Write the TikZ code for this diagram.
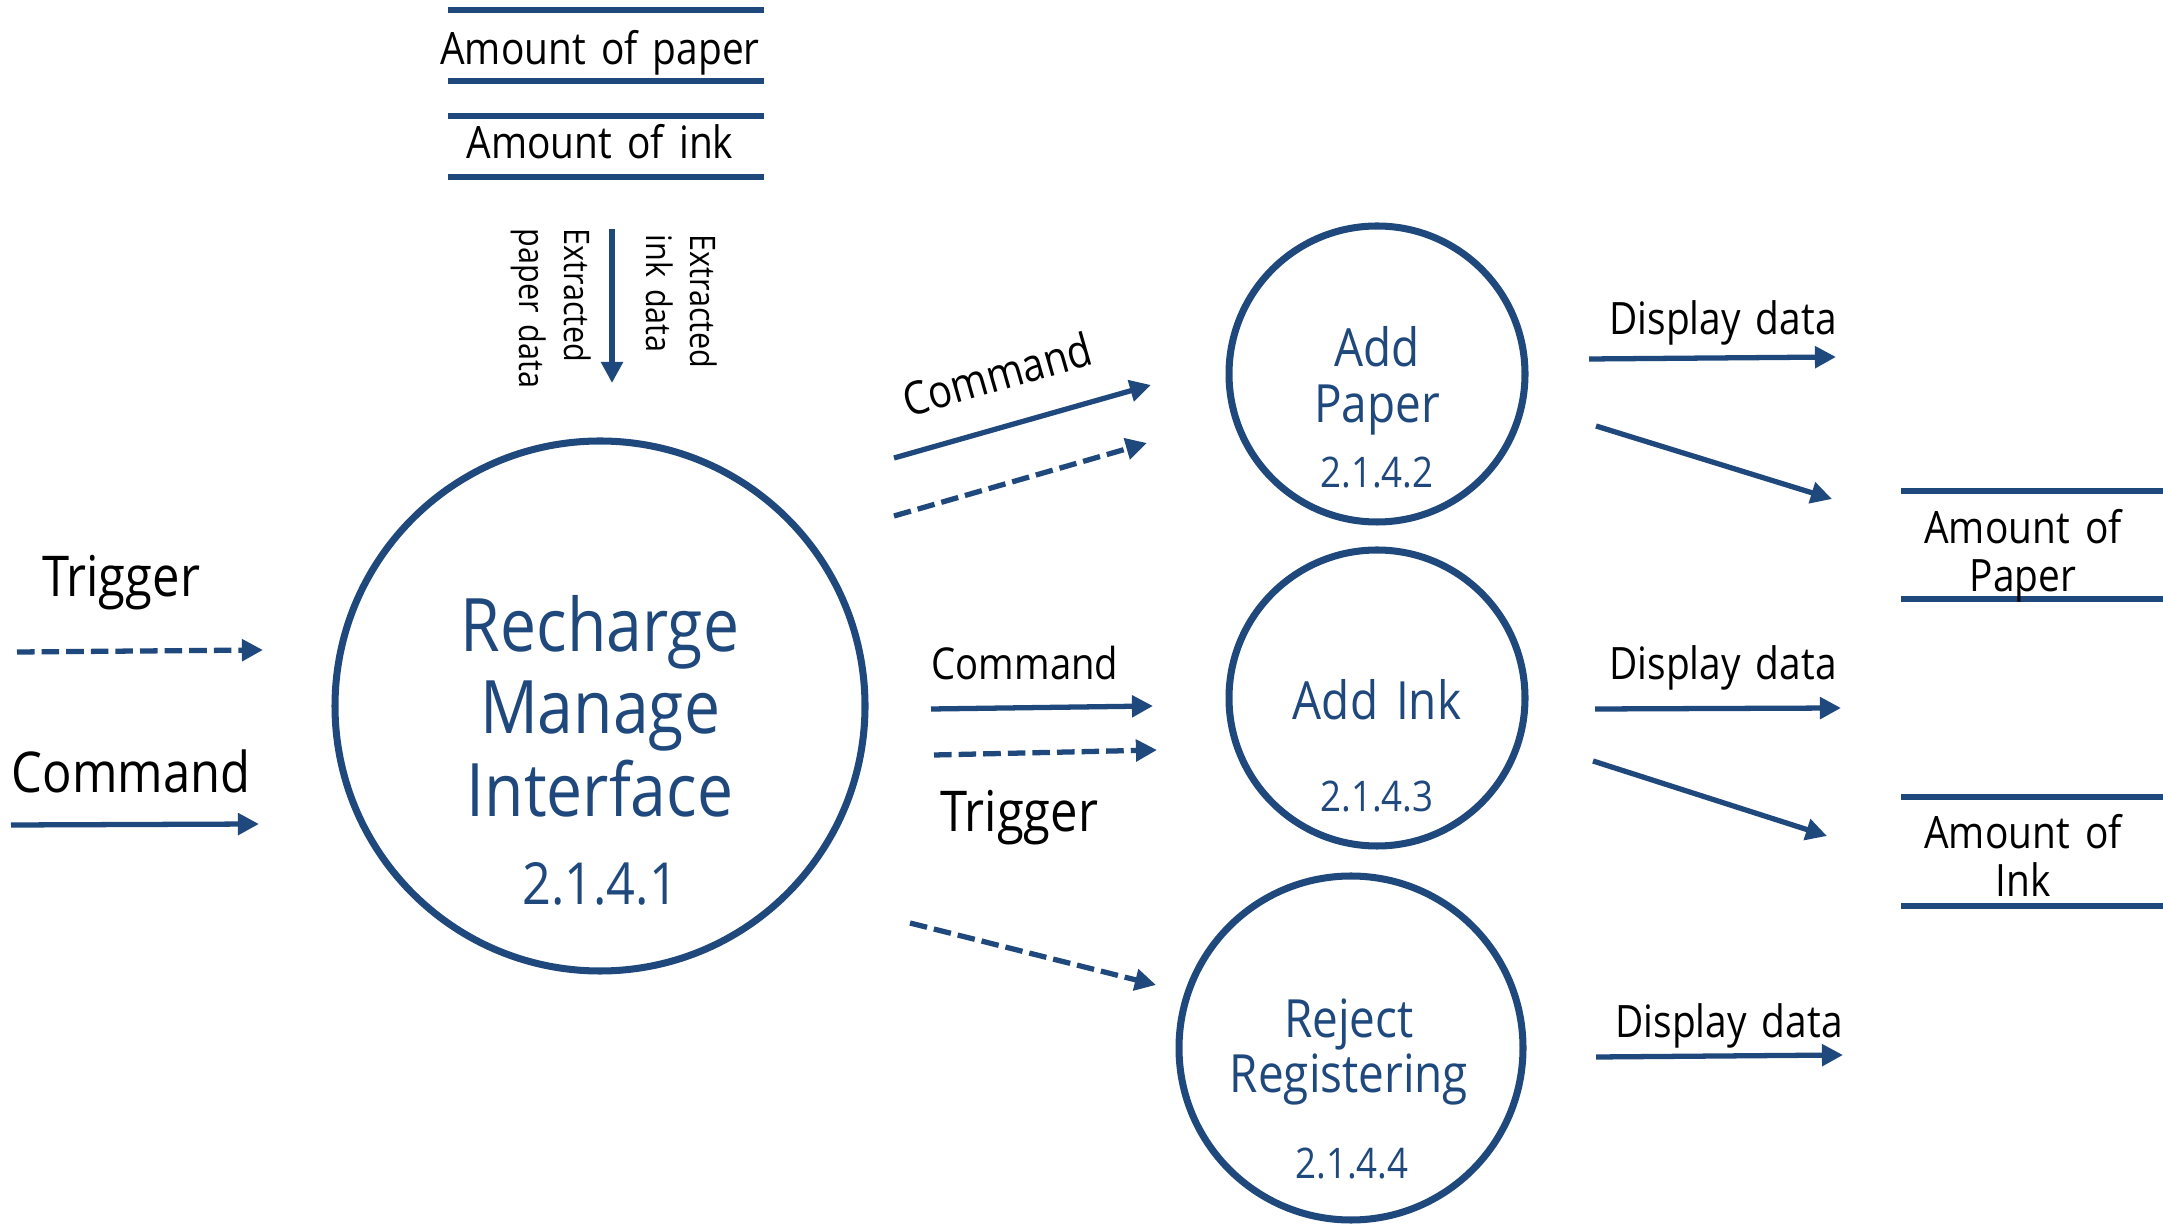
\documentclass[tikz,border=0pt]{standalone}
\usepackage{fontspec}
\setmainfont{Open Sans}[FakeStretch=0.87,WordSpace=1.5]
\usetikzlibrary{arrows.meta}
\definecolor{dfdblue}{RGB}{31,73,125}
\newcommand{\fs}[1]{\fontsize{#1}{#1}\selectfont}
\begin{document}
\begin{tikzpicture}[x=0.1mm,y=-0.1mm,
  flow/.style={draw=dfdblue, line width=1.5pt, -{Triangle[length=6pt,width=6pt]}},
  trig/.style={flow, dash pattern=on 5pt off 2pt},
  proc/.style={circle, draw=dfdblue, line width=2pt, inner sep=0pt},
  store/.style={draw=dfdblue, line width=1.8pt},
  lbl/.style={inner sep=0pt, text=black, anchor=base},
  ptxt/.style={inner sep=0pt, text=dfdblue, anchor=base}]
\useasboundingbox[fill=white] (0,0) rectangle (2163,1224);

% processes
\node[proc, minimum size=53mm] (rmi) at (600,706) {};
\node[proc, minimum size=29.6mm] (ap) at (1377,374) {};
\node[proc, minimum size=29.6mm] (ai) at (1377,698) {};
\node[proc, minimum size=34.4mm] (rr) at (1351,1048) {};

\node[ptxt, font=\fs{21}] (rmi1) at (600,652) {Recharge};
\node[ptxt, font=\fs{21}] (rmi2) at (600,734) {Manage};
\node[ptxt, font=\fs{21}] (rmi3) at (600,817) {Interface};
\node[ptxt, font=\fs{16.5}] (rmin) at (600,905) {2.1.4.1};

\node[ptxt, font=\fs{15}] (ap1) at (1377,367) {Add};
\node[ptxt, font=\fs{15}] (ap2) at (1377,423) {Paper};
\node[ptxt, font=\fs{12}] (apn) at (1377,488) {2.1.4.2};

\node[ptxt, font=\fs{15}] (ai1) at (1377,720) {Add Ink};
\node[ptxt, font=\fs{12}] (ain) at (1377,812) {2.1.4.3};

\node[ptxt, font=\fs{15}] (rr1) at (1349,1037) {Reject};
\node[ptxt, font=\fs{15}] (rr2) at (1349,1092) {Registering};
\node[ptxt, font=\fs{12}] (rrn) at (1352,1178) {2.1.4.4};

% data stores (top)
\draw[store] (448,10) -- (764,10);
\draw[store] (448,81) -- (764,81);
\node[lbl, font=\fs{12.7}] (dsp) at (600,65) {Amount of paper};
\draw[store] (448,116) -- (764,116);
\draw[store] (448,177) -- (764,177);
\node[lbl, font=\fs{12.7}] (dsi) at (600,159) {Amount of ink};

% data stores (right)
\draw[store] (1901,491) -- (2163,491);
\draw[store] (1901,599) -- (2163,599);
\node[lbl, font=\fs{12.7}] (dsp2a) at (2023,544) {Amount of};
\node[lbl, font=\fs{12.7}] (dsp2b) at (2023,592) {Paper};
\draw[store] (1901,797) -- (2163,797);
\draw[store] (1901,906) -- (2163,906);
\node[lbl, font=\fs{12.7}] (dsi2a) at (2023,849) {Amount of};
\node[lbl, font=\fs{12.7}] (dsi2b) at (2023,897) {Ink};

% extracted data arrow
\coordinate (ex1) at (612,229);
\coordinate (ex2) at (612,383);
\draw[flow] (ex1) -- (ex2);
\node[inner sep=0pt, rotate=-90, anchor=west, align=left, font=\fontsize{10}{13}\selectfont] (exp) at (551,228) {Extracted\\paper data};
\node[inner sep=0pt, rotate=-90, anchor=west, align=left, font=\fontsize{10}{12.5}\selectfont] (exi) at (682,234) {Extracted\\ink data};

% left inputs
\node[lbl, font=\fs{16}] (ltrig) at (121,597) {Trigger};
\coordinate (lt1) at (17,652);
\coordinate (lt2) at (263,650);
\draw[trig] (lt1) -- (lt2);
\node[lbl, font=\fs{16}] (lcmd) at (131,793) {Command};
\coordinate (lc1) at (11,825);
\coordinate (lc2) at (259,824);
\draw[flow] (lc1) -- (lc2);

% to Add Paper
\coordinate (p1a) at (894,458);
\coordinate (p1b) at (1151,385);
\draw[flow] (p1a) -- (p1b);
\node[inner sep=0pt, rotate=16, font=\fs{13}] (pcmd) at (997,374) {Command};
\coordinate (p2a) at (894,516);
\coordinate (p2b) at (1147,443);
\draw[trig] (p2a) -- (p2b);

% to Add Ink
\node[lbl, font=\fs{12.5}] (icmd) at (1025,680) {Command};
\coordinate (i1a) at (931,709);
\coordinate (i1b) at (1153,706);
\draw[flow] (i1a) -- (i1b);
\coordinate (i2a) at (934,755);
\coordinate (i2b) at (1157,750);
\draw[trig] (i2a) -- (i2b);
\node[lbl, font=\fs{16}] (itrig) at (1019,832) {Trigger};

% to Reject
\coordinate (r1a) at (910,923);
\coordinate (r1b) at (1156,985);
\draw[trig] (r1a) -- (r1b);

% outputs
\node[lbl, font=\fs{12.7}] (dd1) at (1723,335) {Display data};
\coordinate (o1a) at (1589,359);
\coordinate (o1b) at (1836,357);
\draw[flow] (o1a) -- (o1b);
\coordinate (o2a) at (1596,426);
\coordinate (o2b) at (1832,499);
\draw[flow] (o2a) -- (o2b);

\node[lbl, font=\fs{12.7}] (dd2) at (1723,680) {Display data};
\coordinate (o3a) at (1595,709);
\coordinate (o3b) at (1841,708);
\draw[flow] (o3a) -- (o3b);
\coordinate (o4a) at (1593,761);
\coordinate (o4b) at (1827,836);
\draw[flow] (o4a) -- (o4b);

\node[lbl, font=\fs{12.7}] (dd3) at (1729,1037) {Display data};
\coordinate (o5a) at (1596,1057);
\coordinate (o5b) at (1843,1055);
\draw[flow] (o5a) -- (o5b);
\end{tikzpicture}
\end{document}
